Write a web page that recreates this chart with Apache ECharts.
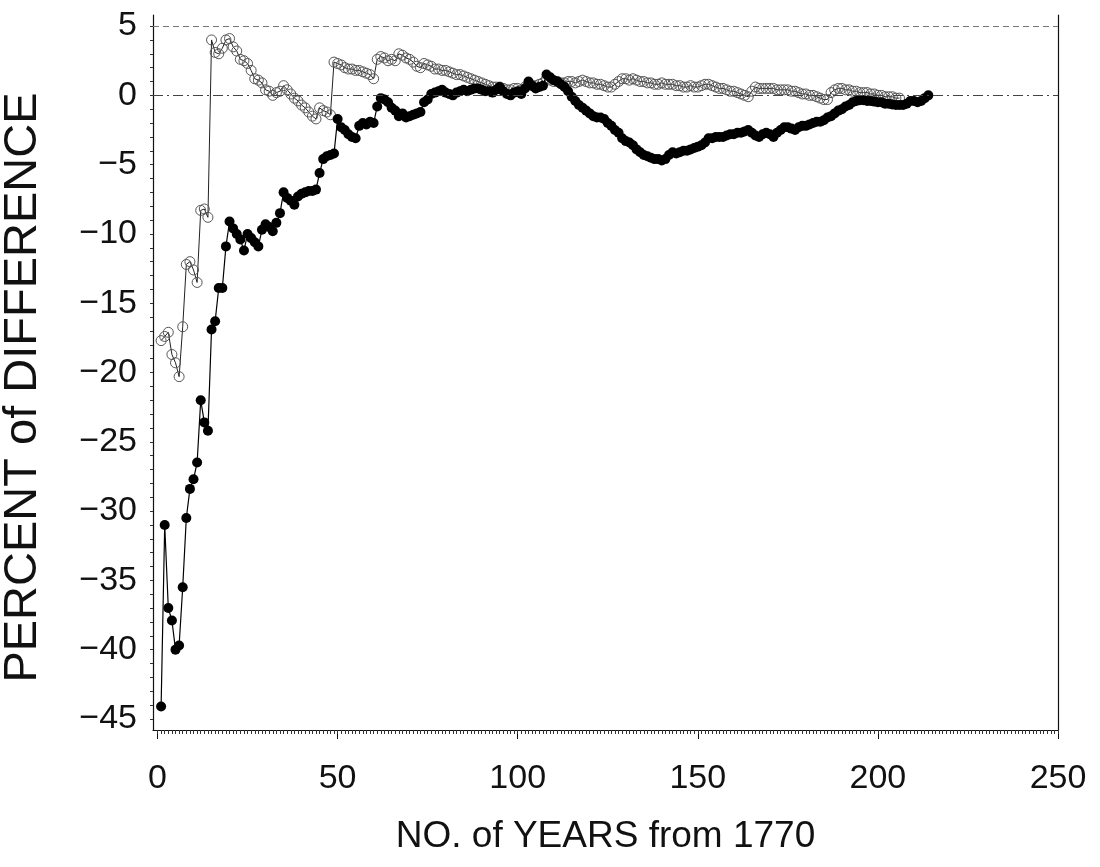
<!DOCTYPE html>
<html style="height: 100%">
 <head>
  <meta charset="utf-8" />
  <script type="text/javascript" src="https://cdn.jsdelivr.net/npm/echarts@6/dist/echarts.min.js"></script>
 </head>
 <body style="height: 100%; margin: 0; background: #fff">
  <div id="main" style="width:1100px;height:867px;"></div>
  <script type="text/javascript">
   // first year offset of both series (years from 1770)
   var firstYear = 1;
   // filled dots
   var dotValues = [
     -44.1, -31.0, -37.0, -37.9, -40.0, -39.7, -35.5, -30.5, -28.4, -27.7,
     -26.5, -22.0, -23.6, -24.2, -16.9, -16.3, -13.9, -13.9, -10.9, -9.1,
     -9.6, -10.0, -10.4, -11.2, -10.0, -10.3, -10.6, -10.9, -9.7, -9.3,
     -9.5, -9.8, -9.2, -8.5, -7.0, -7.4, -7.6, -7.9, -7.3, -7.1,
     -7.0, -6.9, -6.9, -6.8, -5.6, -4.6, -4.4, -4.3, -4.2, -1.7,
     -2.3, -2.5, -2.8, -3.0, -3.1, -2.2, -2.0, -2.1, -1.9, -2.0,
     -0.8, -0.2, -0.3, -0.5, -0.9, -1.1, -1.5, -1.3, -1.6, -1.5,
     -1.4, -1.3, -1.2, -0.5, -0.3, 0.1, 0.2, 0.3, 0.4, 0.2,
     0.1, 0.0, 0.2, 0.3, 0.4, 0.3, 0.4, 0.5, 0.5, 0.4,
     0.3, 0.3, 0.2, 0.4, 0.6, 0.3, 0.1, 0.0, 0.2, 0.3,
     0.1, 0.5, 1.0, 0.7, 0.5, 0.6, 0.7, 1.5, 1.3, 1.1,
     1.0, 0.8, 0.6, 0.3, -0.1, -0.4, -0.7, -0.9, -1.1, -1.3,
     -1.5, -1.6, -1.6, -1.7, -2.0, -2.2, -2.5, -2.7, -3.1, -3.3,
     -3.4, -3.6, -3.9, -4.1, -4.3, -4.4, -4.5, -4.6, -4.6, -4.7,
     -4.6, -4.3, -4.1, -4.2, -4.1, -4.0, -4.0, -3.9, -3.8, -3.7,
     -3.6, -3.4, -3.1, -3.1, -3.0, -3.0, -3.0, -2.9, -2.8, -2.8,
     -2.7, -2.7, -2.6, -2.5, -2.7, -2.9, -3.0, -2.8, -2.7, -2.8,
     -3.0, -2.7, -2.5, -2.3, -2.3, -2.4, -2.5, -2.3, -2.2, -2.2,
     -2.1, -2.0, -1.9, -1.9, -1.8, -1.6, -1.5, -1.3, -1.1, -1.0,
     -0.8, -0.7, -0.5, -0.4, -0.35, -0.35, -0.4, -0.4, -0.45, -0.5,
     -0.5, -0.6, -0.6, -0.65, -0.7, -0.7, -0.7, -0.6, -0.4, -0.4,
     -0.5, -0.4, -0.2, 0.0
   ];
   // open circles
   var ringValues = [
     -17.7, -17.4, -17.1, -18.7, -19.3, -20.3, -16.7, -12.2, -12.0, -12.6,
     -13.5, -8.3, -8.2, -8.8, 4.0, 3.1, 3.0, 3.4, 4.0, 4.1,
     3.5, 3.2, 2.6, 2.5, 2.3, 1.8, 1.2, 1.1, 0.9, 0.4,
     0.3, 0.0, 0.2, 0.3, 0.7, 0.4, 0.1, -0.2, -0.4, -0.7,
     -0.9, -1.2, -1.5, -1.7, -0.9, -1.1, -1.2, -1.4, 2.4, 2.3,
     2.2, 2.0, 1.9, 1.9, 1.8, 1.8, 1.7, 1.6, 1.5, 1.2,
     2.6, 2.8, 2.7, 2.5, 2.6, 2.5, 3.0, 2.9, 2.7, 2.6,
     2.4, 2.1, 2.0, 2.3, 2.2, 2.1, 1.9, 1.9, 1.8, 1.8,
     1.7, 1.6, 1.5, 1.5, 1.4, 1.3, 1.2, 1.1, 1.0, 0.9,
     0.8, 0.7, 0.6, 0.6, 0.6, 0.5, 0.4, 0.4, 0.5, 0.5,
     0.4, 0.6, 0.8, 0.7, 0.7, 0.8, 0.9, 1.2, 1.1, 1.0,
     1.0, 0.9, 0.9, 1.0, 1.0, 0.9, 1.0, 1.1, 1.0, 0.9,
     0.9, 0.8, 0.8, 0.7, 0.6, 0.6, 0.8, 1.0, 1.2, 1.2,
     1.1, 1.2, 1.1, 1.0, 1.0, 0.9, 0.9, 0.8, 0.8, 0.9,
     0.8, 0.8, 0.8, 0.7, 0.7, 0.6, 0.6, 0.7, 0.6, 0.6,
     0.7, 0.8, 0.8, 0.7, 0.6, 0.5, 0.5, 0.4, 0.3, 0.3,
     0.2, 0.1, 0.0, -0.1, 0.3, 0.6, 0.5, 0.5, 0.5, 0.5,
     0.5, 0.4, 0.4, 0.4, 0.4, 0.3, 0.3, 0.2, 0.1, 0.1,
     0.0, 0.0, -0.1, -0.2, -0.3, -0.3, 0.2, 0.4, 0.5, 0.5,
     0.4, 0.4, 0.3, 0.3, 0.2, 0.2, 0.2, 0.1, 0.1, 0.0,
     0.0, -0.1, -0.1, -0.1, -0.2, -0.2
   ];
   var xTicks = [0, 50, 100, 150, 200, 250];
   var yTicks = [-45, -40, -35, -30, -25, -20, -15, -10, -5, 0, 5];
   var refLines = [5, 0];

   var font = "'Liberation Sans', Arial, Helvetica, sans-serif";
   var xMin = -1.25, xMax = 250, yMin = -45.8, yMax = 5.8;

   var xMinor = [];
   for (var i = 0; i <= 250; i++) xMinor.push(i);
   var yMinor = [];
   for (var j = -45; j <= 5; j++) yMinor.push(j);

   function pairs(vals) {
     return vals.map(function (v, k) { return [firstYear + k, v]; });
   }

   var myChart = echarts.init(document.getElementById('main'));
   var option = {
     backgroundColor: '#fff',
     animation: false,
     grid: { left: 153, right: 42, top: 15, bottom: 137, containLabel: false, outerBoundsMode: 'none' },
     xAxis: [{
       type: 'value', min: xMin, max: xMax,
       name: 'NO. of YEARS from 1770', nameLocation: 'middle', nameGap: 88,
       nameTextStyle: { fontFamily: font, fontSize: 37, color: '#111' },
       axisLine: { show: true, onZero: false, lineStyle: { color: '#111', width: 1.2 } },
       axisTick: { show: true, inside: false, length: 9, customValues: xTicks, lineStyle: { color: '#111' } },
       axisLabel: { customValues: xTicks, margin: 32, fontFamily: font, fontSize: 34, color: '#111' },
       splitLine: { show: false }
     }, {
       type: 'value', min: xMin, max: xMax, position: 'bottom',
       axisLine: { show: false, onZero: false },
       axisTick: { show: true, inside: false, length: 4, customValues: xMinor, lineStyle: { color: '#333' } },
       axisLabel: { show: false },
       splitLine: { show: false }
     }],
     yAxis: [{
       type: 'value', min: yMin, max: yMax,
       name: 'PERCENT of DIFFERENCE', nameLocation: 'middle', nameGap: 106, nameRotate: 90,
       nameTextStyle: { fontFamily: font, fontSize: 47, color: '#111', padding: [0, 30, 0, 0] },
       axisLine: { show: true, onZero: false, lineStyle: { color: '#111', width: 1.2 } },
       axisTick: { show: true, inside: false, length: 3, customValues: yMinor, lineStyle: { color: '#333' } },
       axisLabel: {
         customValues: yTicks, margin: 16, fontFamily: font, fontSize: 34, color: '#111',
         formatter: function (v) { return v < 0 ? '\u2212' + Math.abs(v) : String(v); }
       },
       splitLine: { show: false }
     }, {
       type: 'value', min: yMin, max: yMax, position: 'right',
       axisLine: { show: true, onZero: false, lineStyle: { color: '#111', width: 1.2 } },
       axisTick: { show: false }, axisLabel: { show: false }, splitLine: { show: false }
     }],
     series: [{
       name: 'open',
       type: 'line',
       data: pairs(ringValues),
       symbol: 'circle',
       symbolSize: 10,
       lineStyle: { color: '#222', width: 1 },
       itemStyle: { color: 'rgba(255,255,255,0)', borderColor: '#555', borderWidth: 1 },
       markLine: {
         silent: true, symbol: 'none', label: { show: false },
         data: refLines.map(function (v) {
           return { yAxis: v, lineStyle: { color: v === 0 ? '#444' : '#777', type: v === 0 ? [10, 4, 2, 4] : [6, 4], width: 1 } };
         })
       },
       z: 2
     }, {
       name: 'filled',
       type: 'line',
       data: pairs(dotValues),
       symbol: 'circle',
       symbolSize: 10,
       lineStyle: { color: '#000', width: 1.2 },
       itemStyle: { color: '#000' },
       z: 3
     }]
   };
   myChart.setOption(option);
  </script>
 </body>
</html>
